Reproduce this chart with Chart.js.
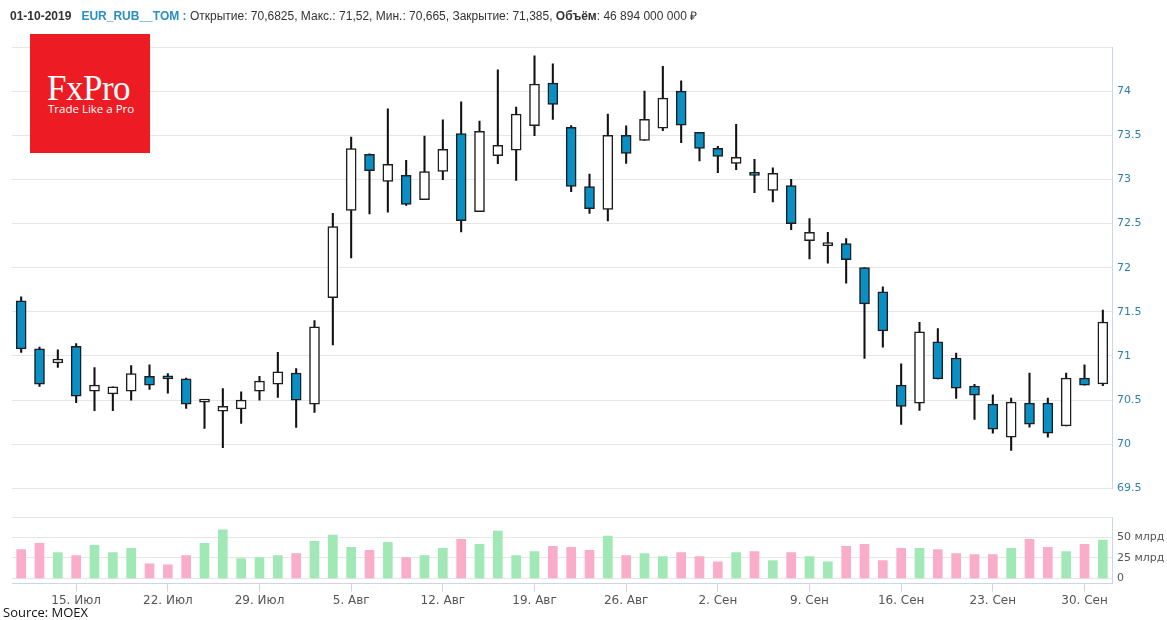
<!DOCTYPE html>
<html>
<head>
<meta charset="utf-8">
<script src="https://cdn.jsdelivr.net/npm/chart.js@4.4.1/dist/chart.umd.min.js"></script>
<style>
  body { margin: 0; background: #fff; width: 1167px; height: 620px; overflow: hidden; position: relative; }
  canvas { position: absolute; left: 0; }
  #priceChart { top: 0; }
  #volChart { top: 505px; }
  #hdr { position: absolute; left: 10px; top: 7px; font: 12px 'Liberation Sans', Arial, sans-serif; color: #333; white-space: nowrap; z-index: 2; }
  #hdr .sym { color: #2b8fc0; }
  #logo { position: absolute; left: 30px; top: 34px; width: 120px; height: 119px; background: #ed1c24; color: #fff; z-index: 2; }
  #logo .big { position: absolute; left: 17px; top: 37px; font: 35px 'Liberation Serif', serif; line-height: 1; letter-spacing: -0.5px; }
  #logo .small { position: absolute; left: 18px; top: 67px; font: 11.5px 'Open Sans', sans-serif; }
  #src { position: absolute; left: 3px; top: 603px; font: 13px 'Open Sans', sans-serif; color: #111; z-index: 2; }
</style>
</head>
<body>
<div id="hdr"></div>
<div id="logo"><span class="big">FxPro</span><span class="small">Trade Like a Pro</span></div>
<canvas id="priceChart" width="1167" height="500"></canvas>
<canvas id="volChart" width="1167" height="115"></canvas>
<div id="src">Source: MOEX</div>
<script>
// trading days, 10 Jul - 1 Oct 2019
const days = [
  '10.07', '11.07', '12.07', '15.07', '16.07', '17.07', '18.07', '19.07', '22.07', '23.07',
  '24.07', '25.07', '26.07', '29.07', '30.07', '31.07', '01.08', '02.08', '05.08', '06.08',
  '07.08', '08.08', '09.08', '12.08', '13.08', '14.08', '15.08', '16.08', '19.08', '20.08',
  '21.08', '22.08', '23.08', '26.08', '27.08', '28.08', '29.08', '30.08', '02.09', '03.09',
  '04.09', '05.09', '06.09', '09.09', '10.09', '11.09', '12.09', '13.09', '16.09', '17.09',
  '18.09', '19.09', '20.09', '23.09', '24.09', '25.09', '26.09', '27.09', '30.09', '01.10'
];

// labels shown under the volume panel (Mondays)
const weekTicks = {
  '15.07': '15. Июл', '22.07': '22. Июл', '29.07': '29. Июл', '05.08': '5. Авг',
  '12.08': '12. Авг', '19.08': '19. Авг', '26.08': '26. Авг', '02.09': '2. Сен',
  '09.09': '9. Сен', '16.09': '16. Сен', '23.09': '23. Сен', '30.09': '30. Сен'
};

const open = [
  71.625, 71.08, 70.92, 71.11, 70.60, 70.57, 70.60, 70.77, 70.75, 70.74,
  70.477, 70.375, 70.40, 70.60, 70.68, 70.807, 70.455, 71.66, 72.65, 73.284,
  72.977, 73.045, 72.77, 73.09, 73.52, 72.636, 73.27, 73.33, 73.61, 74.09,
  73.59, 72.92, 72.66, 73.50, 73.443, 73.58, 74.00, 73.534, 73.352, 73.18,
  73.055, 72.875, 72.93, 72.307, 72.25, 72.273, 72.0, 71.727, 70.67, 70.466,
  71.16, 70.977, 70.66, 70.455, 70.08, 70.466, 70.466, 70.208, 70.75, 70.6825
];
const high = [
  71.67, 71.10, 71.07, 71.14, 70.87, 70.65, 70.89, 70.90, 70.80, 70.75,
  70.50, 70.63, 70.595, 70.77, 71.04, 70.856, 71.40, 72.617, 73.48, 73.29,
  73.80, 73.216, 73.49, 73.674, 73.88, 73.66, 74.24, 73.82, 74.40, 74.31,
  73.61, 73.06, 73.74, 73.606, 74.00, 74.28, 74.117, 73.534, 73.375, 73.625,
  73.227, 73.13, 73.0, 72.556, 72.40, 72.33, 72.0, 71.784, 70.91, 71.38,
  71.31, 71.034, 70.68, 70.56, 70.523, 70.807, 70.523, 70.807, 70.90, 71.52
];
const low = [
  71.04, 70.655, 70.87, 70.47, 70.38, 70.38, 70.50, 70.62, 70.58, 70.405,
  70.18, 69.96, 70.235, 70.50, 70.53, 70.19, 70.36, 71.125, 72.11, 72.61,
  72.63, 72.705, 72.77, 72.996, 72.405, 72.636, 73.178, 72.99, 73.496, 73.68,
  72.86, 72.614, 72.53, 73.18, 73.443, 73.553, 73.417, 73.21, 73.076, 73.11,
  72.85, 72.746, 72.43, 72.10, 72.05, 71.826, 70.973, 71.10, 70.225, 70.383,
  70.74, 70.52, 70.28, 70.125, 69.93, 70.193, 70.08, 70.208, 70.67, 70.665
];
const close = [
  71.08, 70.68, 70.966, 70.545, 70.67, 70.65, 70.80, 70.67, 70.74, 70.455,
  70.50, 70.43, 70.50, 70.716, 70.82, 70.50, 71.33, 72.466, 73.35, 73.10,
  73.17, 72.716, 73.09, 73.34, 72.534, 73.545, 73.386, 73.74, 74.08, 73.85,
  72.92, 72.67, 73.50, 73.295, 73.68, 73.92, 73.614, 73.352, 73.26, 73.25,
  73.045, 73.07, 72.5, 72.40, 72.273, 72.09, 71.59, 71.284, 70.43, 71.273,
  70.74, 70.636, 70.557, 70.17, 70.477, 70.227, 70.125, 70.75, 70.67, 71.385
];

// volume, billions of roubles
const volume = [
  35.4, 42.9, 31.7, 27.9, 40.4, 31.7, 36.7, 17.9, 16.7, 27.9,
  42.9, 59.2, 24.2, 25.4, 27.9, 30.4, 45.4, 52.9, 37.9, 34.2,
  44.2, 25.4, 27.9, 36.7, 47.9, 41.7, 57.9, 27.9, 32.9, 39.2,
  37.9, 34.2, 51.7, 27.9, 30.4, 26.7, 31.7, 26.7, 20.4, 31.7,
  32.9, 21.7, 31.7, 26.7, 20.4, 39.2, 41.7, 21.7, 36.7, 36.7,
  35.4, 30.4, 29.2, 29.2, 36.7, 47.9, 37.9, 32.9, 41.7, 46.894
];

const priceTicks = [69.5, 70, 70.5, 71, 71.5, 72, 72.5, 73, 73.5, 74, 74.5];
const volTicks = [0, 25, 50, 75];

const BLUE = '#0a8fc4';
const GRID = '#e6e6e6';
const AXIS = '#ccd6eb';
const tickFont = { family: 'DejaVu Sans', size: 11 };

// header line from the last candle
const n = days.length - 1;
const fmt = v => String(v).replace('.', ',');
const volText = Math.round(volume[n] * 1000).toLocaleString('ru-RU').replace(/\s/g, ' ') + ' 000 000';
document.getElementById('hdr').innerHTML =
  '<b>01-10-2019</b>&nbsp;&nbsp;&nbsp;<b class="sym">EUR_RUB__TOM :</b> ' +
  'Открытие: ' + fmt(open[n]) + ', Макс.: ' + fmt(high[n]) + ', Мин.: ' + fmt(low[n]) +
  ', Закрытие: ' + fmt(close[n]) + ', <b>Объём</b>: ' + volText + ' ₽';

const isUp = days.map((d, i) => close[i] >= open[i]);

// Price panel: wicks + bodies as floating bars
new Chart(document.getElementById('priceChart'), {
  type: 'bar',
  data: {
    labels: days,
    datasets: [{
      label: 'body',
      data: days.map((d, i) => [open[i], close[i]]),
      backgroundColor: isUp.map(u => u ? '#ffffff' : BLUE),
      borderColor: '#1e1e1e',
      borderWidth: 1.5,
      borderSkipped: false,
      barThickness: 10,
      minBarLength: 3,
      grouped: false,
      order: 1
    }, {
      label: 'wick',
      data: days.map((d, i) => [low[i], high[i]]),
      backgroundColor: '#111',
      barThickness: 1.4,
      grouped: false,
      order: 2
    }]
  },
  options: {
    responsive: false,
    animation: false,
    layout: { padding: { left: 12, top: 47, right: 0, bottom: 11 } },
    plugins: { legend: { display: false }, tooltip: { enabled: false } },
    scales: {
      x: { display: false, offset: true },
      y: {
        position: 'right',
        min: 69.5,
        max: 74.5,
        afterBuildTicks: s => { s.ticks = priceTicks.map(v => ({ value: v })); },
        afterFit: s => { s.width = 55; },
        grid: { color: GRID, drawTicks: false },
        border: { color: AXIS },
        ticks: {
          padding: 5,
          color: '#2f7fae',
          font: tickFont,
          callback: v => v === 74.5 ? '' : String(v)
        }
      }
    }
  }
});

// Volume panel
new Chart(document.getElementById('volChart'), {
  type: 'bar',
  data: {
    labels: days,
    datasets: [{
      label: 'volume',
      data: volume,
      backgroundColor: isUp.map(u => u ? '#a0e8b6' : '#f9adc8'),
      barThickness: 9
    }]
  },
  options: {
    responsive: false,
    animation: false,
    layout: { padding: { left: 12, top: 12, right: 0, bottom: 10 } },
    plugins: { legend: { display: false }, tooltip: { enabled: false } },
    scales: {
      x: {
        offset: true,
        grid: { drawOnChartArea: false, offset: false, tickLength: 8, color: AXIS },
        border: { color: AXIS },
        ticks: {
          autoSkip: false,
          maxRotation: 0,
          padding: 2,
          color: '#555',
          font: { family: 'DejaVu Sans', size: 12 },
          callback: (v, i) => weekTicks[days[i]] ?? null
        }
      },
      y: {
        position: 'right',
        min: -6.25,
        max: 75,
        afterBuildTicks: s => { s.ticks = volTicks.map(v => ({ value: v })); },
        afterFit: s => { s.width = 55; },
        grid: { color: GRID, drawTicks: false },
        border: { color: AXIS },
        ticks: {
          padding: 5,
          color: '#555',
          font: tickFont,
          callback: v => v === 75 ? '' : (v === 0 ? '0' : v + ' млрд')
        }
      }
    }
  }
});
</script>
</body>
</html>
